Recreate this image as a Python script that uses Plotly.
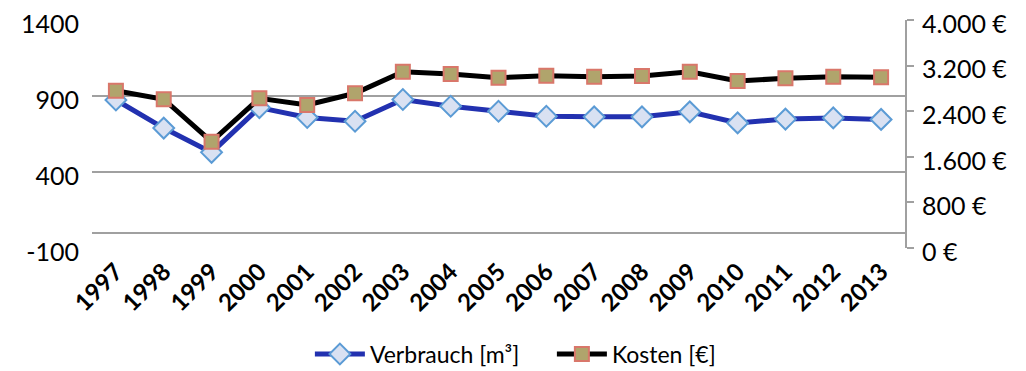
import plotly.graph_objects as go

# Data
years = [str(y) for y in range(1997, 2014)]
verbrauch = [875, 690, 530, 825, 760, 735, 878, 834, 801, 768, 764, 764, 797, 724, 749, 757, 747]
kosten = [2760, 2610, 1866, 2626, 2509, 2714, 3093, 3053, 2988, 3023, 3006, 3018, 3093, 2930, 2977, 3006, 2994]

left_ticks = [-100, 400, 900, 1400]
left_labels = ["-100", "400", "900", "1400"]
right_ticks = [0, 800, 1600, 2400, 3200, 4000]
right_labels = ["0 €", "800 €", "1.600 €", "2.400 €", "3.200 €", "4.000 €"]

font_family = "Lato"
grid_col = "#a0a0a0"

fig = go.Figure()

fig.add_trace(go.Scatter(
    x=years, y=verbrauch, name="Verbrauch [m³]",
    mode="lines+markers",
    line=dict(color="#2231b0", width=5),
    marker=dict(symbol="diamond", size=16, color="#d9e1f2",
                line=dict(color="#5b9bd5", width=2)),
))

fig.add_trace(go.Scatter(
    x=years, y=kosten, name="Kosten [€]", yaxis="y2",
    mode="lines+markers",
    line=dict(color="#000000", width=5),
    marker=dict(symbol="square", size=14, color="#b0a46c",
                line=dict(color="#d9776a", width=2)),
))

# the page body has an 8px margin, so the figure starts at (8, 8)
fig.update_layout(
    width=1018, height=363,
    margin=dict(l=84, r=121, t=12, b=123, autoexpand=False),
    paper_bgcolor="white", plot_bgcolor="white",
    font=dict(family=font_family, size=25, color="#000000"),
    showlegend=True,
    legend=dict(orientation="h", x=0.268, xanchor="left", y=-0.465, yanchor="middle",
                font=dict(size=23), itemwidth=50, entrywidth=177, tracegroupgap=0),
    xaxis=dict(
        type="category", range=[-0.5, 16.5], automargin=False,
        tickangle=-45, showgrid=False, showline=False, ticks="",
        tickfont=dict(size=24, family=font_family, weight="bold"),
        ticklabelstandoff=4,
    ),
    yaxis=dict(
        range=[-100, 1402], tickvals=left_ticks, ticktext=left_labels,
        automargin=False, ticklabeloverflow="allow", ticklabelshift=4,
        showgrid=True, gridcolor=grid_col, gridwidth=2,
        zeroline=True, zerolinecolor=grid_col, zerolinewidth=2,
        showline=False, ticks="", ticklabelstandoff=12,
    ),
    yaxis2=dict(
        overlaying="y", side="right", range=[0, 4000], automargin=False,
        ticklabeloverflow="allow", ticklabelshift=4,
        tickvals=right_ticks, ticktext=right_labels,
        showgrid=False, zeroline=False,
        showline=True, linecolor=grid_col, linewidth=2,
        ticks="outside", ticklen=7, tickcolor=grid_col, tickwidth=2,
        ticklabelstandoff=3,
    ),
)

fig.write_html("out.html")
